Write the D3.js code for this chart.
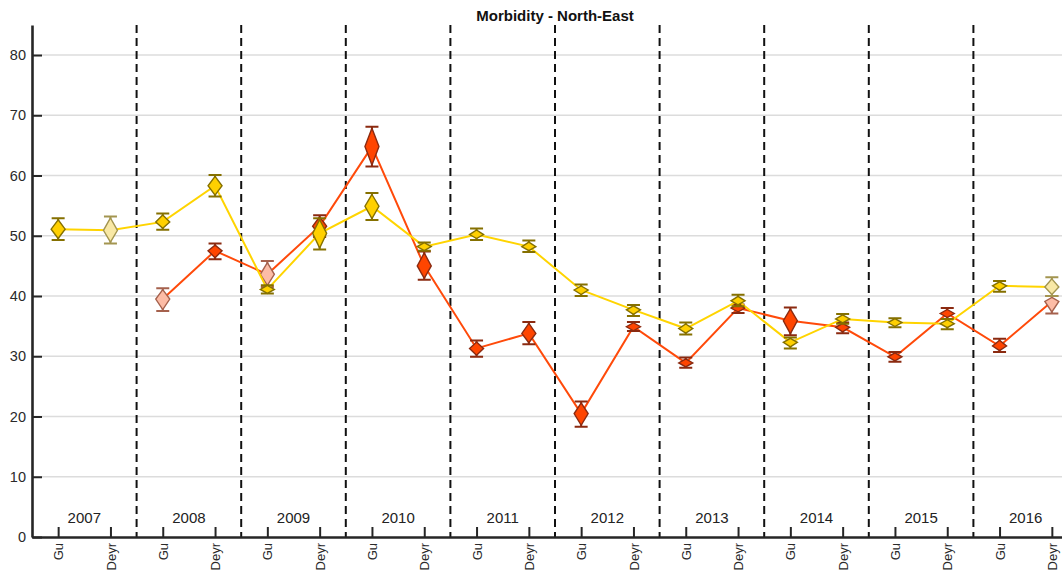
<!DOCTYPE html>
<html>
<head>
<meta charset="utf-8">
<script src="https://cdn.jsdelivr.net/npm/d3@7"></script>
<style>
  html, body { margin: 0; padding: 0; background: #fff; }
  svg { display: block; font-family: "Liberation Sans", Arial, Helvetica, sans-serif; }
</style>
</head>
<body>
<svg id="chart" width="1062" height="574"></svg>
<script>
// Survey rounds: two seasons per year
const years = [2007, 2008, 2009, 2010, 2011, 2012, 2013, 2014, 2015, 2016];
const seasons = ["Gu", "Deyr"];
const categories = years.flatMap(y => seasons.map(s => `${s} ${y}`));
const yTicks = [0, 10, 20, 30, 40, 50, 60, 70, 80];

// Gold series: estimate and 95% CI
const goldMean = [51.1, 50.9, 52.3, 58.3, 41.1, 50.4, 54.9, 48.2, 50.2, 48.2, 41.0, 37.7, 34.6, 39.2, 32.3, 36.2, 35.6, 35.4, 41.7, 41.5];
const goldLow  = [49.3, 48.7, 51.0, 56.5, 40.4, 47.7, 52.6, 47.5, 49.3, 47.3, 40.0, 36.7, 33.6, 38.3, 31.3, 35.4, 34.8, 34.5, 40.7, 40.0];
const goldHigh = [52.9, 53.2, 53.7, 60.1, 41.8, 52.9, 57.1, 48.9, 51.2, 49.2, 41.9, 38.5, 35.6, 40.2, 33.1, 37.0, 36.3, 36.2, 42.5, 43.1];
const goldFaint = [false, true, false, false, false, false, false, false, false, false, false, false, false, false, false, false, false, false, false, true];

// Orange-red series: estimate and 95% CI (no data for 2007)
const redMean = [null, null, 39.5, 47.5, 43.6, 51.6, 64.8, 45.0, 31.3, 33.8, 20.5, 34.9, 28.9, 38.0, 35.9, 34.8, 29.9, 37.1, 31.7, 39.1];
const redLow  = [null, null, 37.5, 46.1, 41.5, 49.8, 61.5, 42.7, 29.9, 32.0, 18.3, 34.2, 28.1, 37.2, 33.5, 33.8, 29.1, 36.2, 30.7, 37.1];
const redHigh = [null, null, 41.3, 48.7, 45.8, 53.4, 68.1, 47.4, 32.6, 35.7, 22.5, 35.7, 29.8, 38.6, 38.1, 35.6, 30.7, 38.0, 32.9, 40.0];
const redFaint = [false, false, true, false, true, false, false, false, false, false, false, false, false, false, false, false, false, false, false, true];

const title = "Morbidity - North-East";

const svg = d3.select("#chart");
const plotLeft = 32, plotRight = 1078, plotTop = 24.9, plotBottom = 537;

const x = d3.scalePoint().domain(categories).range([plotLeft, plotRight]).padding(0.5);
const y = d3.scaleLinear().domain([0, 85]).range([plotBottom, plotTop]);
const step = x.step();

// horizontal grid
svg.append("g").selectAll("line")
  .data(yTicks.filter(d => d > 0))
  .join("line")
  .attr("x1", plotLeft).attr("x2", plotRight)
  .attr("y1", d => y(d)).attr("y2", d => y(d))
  .attr("stroke", "#dcdcdc").attr("stroke-width", 1.6);

// year separators
svg.append("g").selectAll("line")
  .data(years.slice(1))
  .join("line")
  .attr("x1", (d, i) => x(categories[i * 2 + 1]) + step / 2)
  .attr("x2", (d, i) => x(categories[i * 2 + 1]) + step / 2)
  .attr("y1", y(85)).attr("y2", y(0))
  .attr("stroke", "#111").attr("stroke-width", 2)
  .attr("stroke-dasharray", "8,5");

// year labels
svg.append("g").selectAll("text")
  .data(years)
  .join("text")
  .attr("x", (d, i) => (x(categories[i * 2]) + x(categories[i * 2 + 1])) / 2)
  .attr("y", y(0) - 14)
  .attr("text-anchor", "middle")
  .attr("font-size", 15)
  .attr("fill", "#222")
  .text(d => d);

// axes
const yAxis = svg.append("g")
  .attr("transform", `translate(${plotLeft},0)`)
  .call(d3.axisLeft(y).tickValues(yTicks).tickSizeInner(-10).tickSizeOuter(0).tickPadding(6));
const xAxis = svg.append("g")
  .attr("transform", `translate(0,${plotBottom})`)
  .call(d3.axisBottom(x).tickSizeInner(-10).tickSizeOuter(0).tickFormat(d => d.split(" ")[0]));

[yAxis, xAxis].forEach(g => {
  g.select(".domain").attr("stroke", "#262626").attr("stroke-width", 2.6);
  g.selectAll(".tick line").attr("stroke", "#262626").attr("stroke-width", 2);
  g.selectAll(".tick text").attr("fill", "#2a2a2a").attr("font-size", 14.5)
    .attr("font-family", "\"Liberation Sans\", Arial, sans-serif");
});
xAxis.selectAll(".tick text")
  .attr("transform", "rotate(-90)")
  .attr("x", -6).attr("y", 0).attr("dy", "0.35em")
  .attr("text-anchor", "end")
  .attr("font-size", 13);

// title
svg.append("text")
  .attr("x", (plotLeft + plotRight) / 2).attr("y", 21)
  .attr("text-anchor", "middle")
  .attr("font-weight", "bold").attr("font-size", 15)
  .attr("fill", "#111")
  .text(title);

function drawSeries(mean, low, high, faint, style) {
  const pts = categories.map((c, i) => ({ c, m: mean[i], lo: low[i], hi: high[i], faint: faint[i] }))
    .filter(d => d.m != null);
  const g = svg.append("g");

  g.append("path")
    .datum(pts)
    .attr("fill", "none")
    .attr("stroke", style.line).attr("stroke-width", 2)
    .attr("d", d3.line().x(d => x(d.c)).y(d => y(d.m)));

  const cap = 6.5, half = 7;
  const node = g.selectAll("g.pt").data(pts).join("g").attr("class", "pt");

  // error bars
  node.append("path")
    .attr("fill", "none")
    .attr("stroke", d => d.faint ? style.faintEdge : style.edge)
    .attr("stroke-width", 2)
    .attr("d", d => {
      const cx = x(d.c), yl = y(d.lo), yh = y(d.hi);
      return `M${cx - cap},${yh}H${cx + cap}M${cx},${yh}V${yl}M${cx - cap},${yl}H${cx + cap}`;
    });

  // diamonds spanning the interval
  node.append("path")
    .attr("fill", d => d.faint ? style.faintFill : style.fill)
    .attr("stroke", d => d.faint ? style.faintEdge : style.edge)
    .attr("stroke-width", 1.4)
    .attr("d", d => {
      const cx = x(d.c), cy = y(d.m);
      const tTop = Math.min(y(d.hi) + 1.5, cy - 4);
      const tBot = Math.max(y(d.lo) - 1.5, cy + 4);
      return `M${cx},${tTop}L${cx + half},${cy}L${cx},${tBot}L${cx - half},${cy}Z`;
    });
}

drawSeries(redMean, redLow, redHigh, redFaint, {
  line: "#ff4a0a", fill: "#ff4500", edge: "#8b2a10",
  faintFill: "#fcbca6", faintEdge: "#a5614d"
});
drawSeries(goldMean, goldLow, goldHigh, goldFaint, {
  line: "#ffd400", fill: "#ffd000", edge: "#857000",
  faintFill: "#f8e8a6", faintEdge: "#a39550"
});
</script>
</body>
</html>
